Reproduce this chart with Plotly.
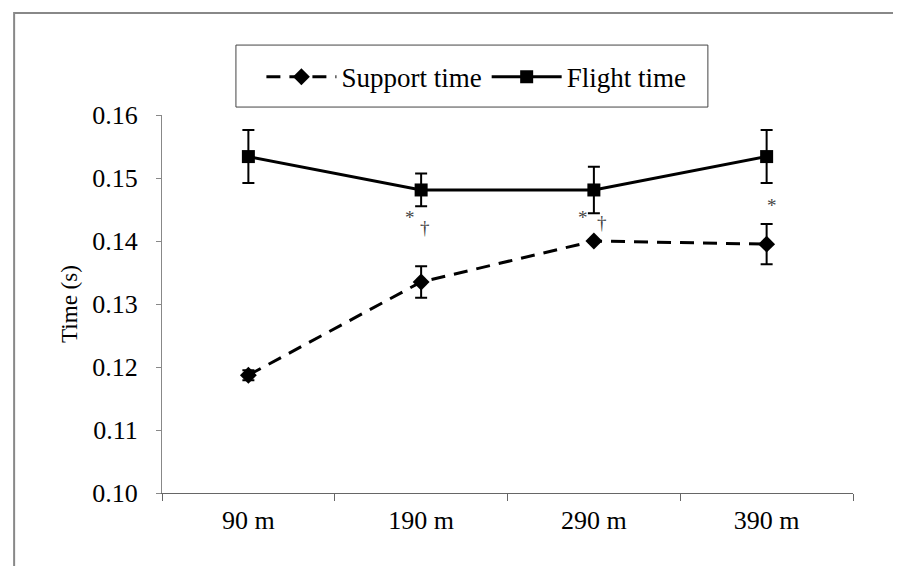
import plotly.graph_objects as go

categories = ["90 m", "190 m", "290 m", "390 m"]
support_time = [0.1187, 0.1335, 0.1400, 0.1395]
support_err = [0.0008, 0.0025, 0.0002, 0.0032]
flight_time = [0.1534, 0.1481, 0.1481, 0.1534]
flight_err = [0.0042, 0.0026, 0.0037, 0.0042]
y_ticks = [0.10, 0.11, 0.12, 0.13, 0.14, 0.15, 0.16]
sig_marks = [("190 m", "*", 0.1437, -11), ("190 m", "†", 0.1421, 4),
             ("290 m", "*", 0.1437, -11), ("290 m", "†", 0.1430, 8),
             ("390 m", "*", 0.1457, 5)]

FONT = "Liberation Serif, Times New Roman, serif"

fig = go.Figure()
fig.add_trace(go.Scatter(
    x=categories, y=support_time, name="Support time", mode="lines+markers",
    line=dict(color="black", width=3, dash="14px,9px"),
    marker=dict(symbol="diamond", size=13, color="black"),
    error_y=dict(type="data", array=support_err, visible=True, color="black",
                 thickness=2, width=6),
))
fig.add_trace(go.Scatter(
    x=categories, y=flight_time, name="Flight time", mode="lines+markers",
    line=dict(color="black", width=3),
    marker=dict(symbol="square", size=13, color="black"),
    error_y=dict(type="data", array=flight_err, visible=True, color="black",
                 thickness=2, width=6),
))

for cat, txt, yv, dx in sig_marks:
    fig.add_annotation(x=cat, y=yv, text=txt, showarrow=False, xshift=dx,
                       font=dict(family=FONT, size=19, color="#444444"))

# legend box
fig.add_shape(type="rect", xref="paper", yref="paper", x0=0.107, x1=0.790,
              y0=1.021, y1=1.185, line=dict(color="#444444", width=1),
              fillcolor="rgba(0,0,0,0)")
# outer frame
fig.add_shape(type="rect", xref="paper", yref="paper", x0=-0.214, x1=1.2,
              y0=-0.3, y1=1.270, line=dict(color="#888888", width=2),
              fillcolor="rgba(0,0,0,0)", layer="below")

fig.update_layout(
    width=901, height=566,
    margin=dict(l=154, r=56, t=107, b=81),
    paper_bgcolor="white", plot_bgcolor="white",
    font=dict(family=FONT, size=26, color="black"),
    showlegend=True,
    legend=dict(orientation="h", x=0.455, y=1.10, xanchor="center",
                yanchor="middle", font=dict(family=FONT, size=27),
                bgcolor="rgba(0,0,0,0)", itemwidth=70),
    xaxis=dict(type="category", tickson="boundaries", ticks="outside",
               ticklen=7, tickcolor="#666666", showline=True,
               linecolor="#666666", linewidth=1, showgrid=False,
               ticklabelstandoff=4,
               tickfont=dict(family=FONT, size=26), range=[-0.5, 3.5]),
    yaxis=dict(range=[0.10, 0.16], tickvals=y_ticks, tickformat=".2f",
               ticks="outside", ticklen=5, tickcolor="#888888",
               showline=True, linecolor="#888888", linewidth=1,
               showgrid=False, zeroline=False, ticklabelstandoff=13,
               tickfont=dict(family=FONT, size=26),
               title=dict(text="Time (s)", font=dict(family=FONT, size=23),
                          standoff=8)),
)

fig.write_html("out.html")
